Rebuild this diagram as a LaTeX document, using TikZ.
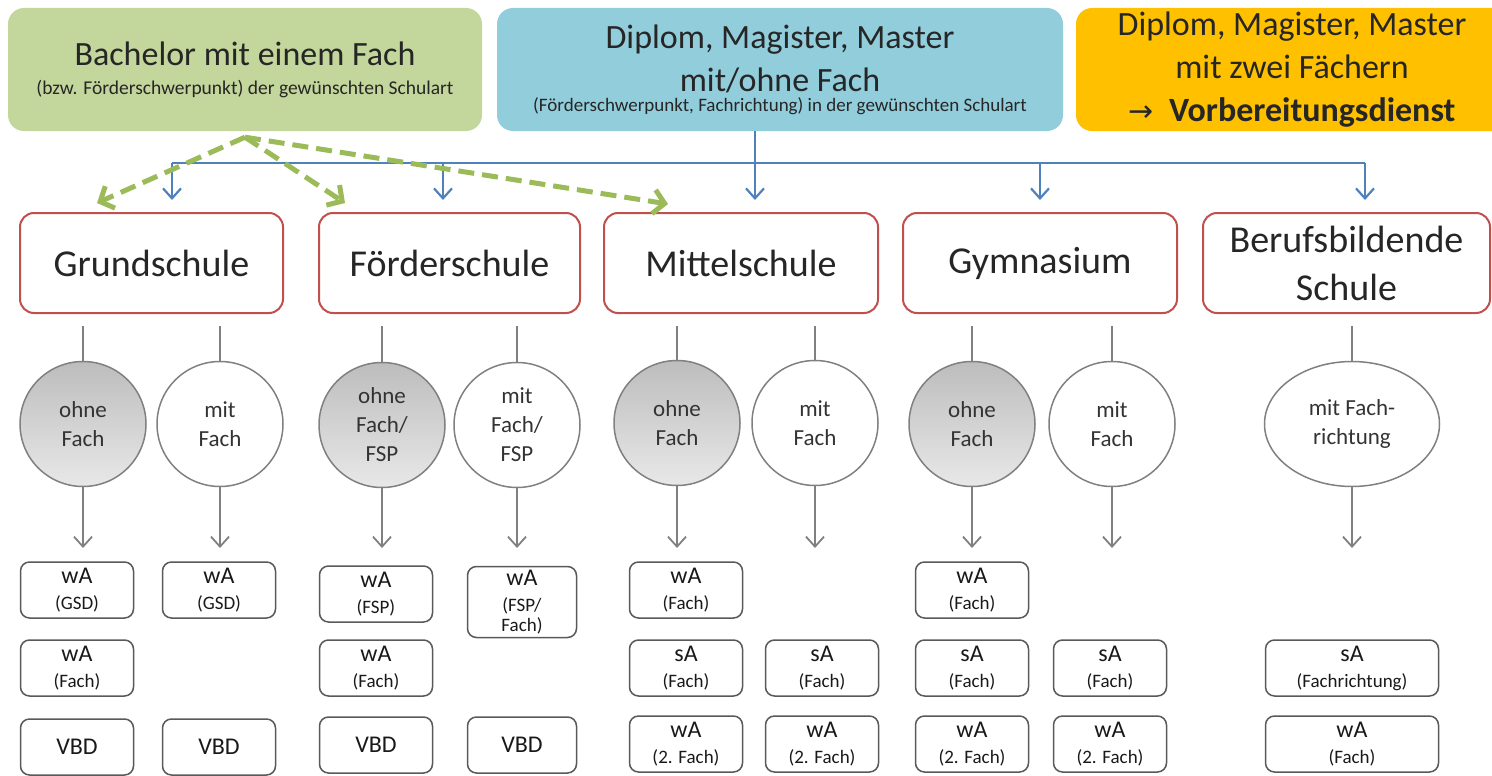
\documentclass[tikz,border=0pt]{standalone}
\usepackage{fontspec}
\setmainfont{Carlito}
\newfontfamily\arrowfont{DejaVu Sans}
\usetikzlibrary{shapes.geometric,arrows.meta}
\definecolor{bachgreen}{HTML}{C3D69B}
\definecolor{dipblue}{HTML}{92CDDC}
\definecolor{vdorange}{HTML}{FFC000}
\definecolor{schoolred}{HTML}{C0504D}
\definecolor{routeblue}{HTML}{4F81BD}
\definecolor{dashgreen}{HTML}{9BBB59}
\tikzset{
  >={Straight Barb[length=10pt,width=18pt]},
}
\tikzstyle{top}=[rounded corners=16pt,minimum height=123pt,align=center,inner sep=0pt,font=\fontsize{34}{43}\selectfont,text=black!85]
\tikzstyle{school}=[draw=schoolred,line width=2pt,rounded corners=14pt,fill=white,minimum height=100pt,align=center,font=\fontsize{38}{48}\selectfont,text=black!85]
\tikzstyle{variant}=[ellipse,draw=black!50,line width=1.5pt,minimum width=126pt,minimum height=125pt,align=center,inner sep=0pt,text=black!80,font=\fontsize{23}{29}\selectfont]
\tikzstyle{ohne}=[variant,top color=black!26,bottom color=black!9]
\tikzstyle{exam}=[draw=black!65,line width=1.5pt,rounded corners=9pt,minimum width=113pt,minimum height=56pt,align=center,inner sep=0pt,text=black!90,font=\fontsize{19}{26}\selectfont]
\tikzstyle{feed}=[draw=black!50,line width=1.8pt]
\tikzstyle{route}=[draw=routeblue,line width=2.2pt]
\tikzstyle{bachelor}=[draw=dashgreen,line width=5pt,dash pattern=on 16pt off 8pt,>={Straight Barb[length=11pt,width=24pt]}]
\newcommand{\exlabel}[2]{{\fontsize{24}{26}\selectfont #1}\\#2}

\begin{document}
\begin{tikzpicture}[x=1pt,y=-1pt]
\useasboundingbox (0,0) rectangle (1492,776);
\node[top,fill=bachgreen,minimum width=474pt] (bach) at (245,69.5) {Bachelor mit einem Fach\\[-14pt]{\fontsize{19.5}{22}\selectfont (bzw. Förderschwerpunkt) der gewünschten Schulart}};
\node[top,fill=dipblue,minimum width=566pt] (dip) at (780,69.5) {Diplom, Magister, Master\\mit/ohne Fach\\[-23pt]{\fontsize{19}{22}\selectfont (Förderschwerpunkt, Fachrichtung) in der gewünschten Schulart}};
\node[top,fill=vdorange,minimum width=432pt] (vd) at (1292,69.5) {Diplom, Magister, Master\\mit zwei Fächern\\{\arrowfont\fontsize{30}{43}\selectfont →}\ \ \textbf{Vorbereitungsdienst}};

\node[school,minimum width=263pt] (grund) at (151.5,263) {Grundschule};
\node[school,minimum width=261pt] (foerder) at (449.5,263) {Förderschule};
\node[school,minimum width=274pt] (mittel) at (741,263) {Mittelschule};
\node[school,minimum width=274pt] (gym) at (1040,263) {Gymnasium};
\node[school,minimum width=287pt] (beruf) at (1346.5,263) {Berufsbildende\\Schule};

\coordinate (bus) at (755,163);
\coordinate (tA) at (172,200);
\coordinate (tB) at (443,200);
\coordinate (tC) at (755,200);
\coordinate (tD) at (1040,200);
\coordinate (tE) at (1365,200);
\draw[route] (tA |- bus) -- (tE |- bus);
\draw[route,->] (dip.south -| bus) -- (tC);
\draw[route,->] (tA |- bus) -- (tA);
\draw[route,->] (tB |- bus) -- (tB);
\draw[route,->] (tD |- bus) -- (tD);
\draw[route,->] (tE |- bus) -- (tE);

\coordinate (gA) at (97,203);
\coordinate (gB) at (345,203);
\coordinate (gC) at (668,204);
\draw[bachelor,->] ([yshift=-6pt]bach.south) -- (gA);
\draw[bachelor,->] ([yshift=-6pt]bach.south) -- (gB);
\draw[bachelor,->] ([yshift=-6pt]bach.south) -- (gC);

\node[ohne] (gO) at (83,424) {ohne\\Fach};
\node[variant] (gM) at (220,424) {mit\\Fach};
\node[ohne] (fO) at (382,425) {ohne\\Fach/\\FSP};
\node[variant] (fM) at (517,425) {mit\\Fach/\\FSP};
\node[ohne] (mO) at (677,423) {ohne\\Fach};
\node[variant] (mM) at (815,423) {mit\\Fach};
\node[ohne] (yO) at (972,424) {ohne\\Fach};
\node[variant] (yM) at (1112,424) {mit\\Fach};
\node[variant,minimum width=175pt] (bM) at (1352,424) {mit Fach-\\richtung};

\coordinate (tips) at (0,548);
\draw[feed,shorten <=12pt] (grund.south -| gO) -- (gO);
\draw[feed,shorten <=12pt] (grund.south -| gM) -- (gM);
\draw[feed,shorten <=12pt] (foerder.south -| fO) -- (fO);
\draw[feed,shorten <=12pt] (foerder.south -| fM) -- (fM);
\draw[feed,shorten <=12pt] (mittel.south -| mO) -- (mO);
\draw[feed,shorten <=12pt] (mittel.south -| mM) -- (mM);
\draw[feed,shorten <=12pt] (gym.south -| yO) -- (yO);
\draw[feed,shorten <=12pt] (gym.south -| yM) -- (yM);
\draw[feed,shorten <=12pt] (beruf.south -| bM) -- (bM);
\draw[feed,->] (gO) -- (gO |- tips);
\draw[feed,->] (gM) -- (gM |- tips);
\draw[feed,->] (fO) -- (fO |- tips);
\draw[feed,->] (fM) -- (fM |- tips);
\draw[feed,->] (mO) -- (mO |- tips);
\draw[feed,->] (mM) -- (mM |- tips);
\draw[feed,->] (yO) -- (yO |- tips);
\draw[feed,->] (yM) -- (yM |- tips);
\draw[feed,->] (bM) -- (bM |- tips);

\node[exam] (gO1) at (77,590) {\exlabel{wA}{(GSD)}};
\node[exam] (gO2) at (77,668) {\exlabel{wA}{(Fach)}};
\node[exam] (gO3) at (77,747) {\fontsize{24}{26}\selectfont VBD};
\node[exam] (gM1) at (219,590) {\exlabel{wA}{(GSD)}};
\node[exam] (gM3) at (219,747) {\fontsize{24}{26}\selectfont VBD};
\node[exam] (fO1) at (376,594) {\exlabel{wA}{(FSP)}};
\node[exam] (fO2) at (376,668) {\exlabel{wA}{(Fach)}};
\node[exam] (fO3) at (376,745) {\fontsize{24}{26}\selectfont VBD};
\node[exam,minimum width=109pt,minimum height=71pt] (fM1) at (522,602) {\exlabel{wA}{(FSP/\\[-6pt]Fach)}};
\node[exam,minimum width=109pt] (fM3) at (522,745) {\fontsize{24}{26}\selectfont VBD};
\node[exam] (mO1) at (686,590) {\exlabel{wA}{(Fach)}};
\node[exam] (mO2) at (686,668) {\exlabel{sA}{(Fach)}};
\node[exam] (mO3) at (686,744) {\exlabel{wA}{(2. Fach)}};
\node[exam] (mM2) at (822,668) {\exlabel{sA}{(Fach)}};
\node[exam] (mM3) at (822,744) {\exlabel{wA}{(2. Fach)}};
\node[exam] (yO1) at (972,590) {\exlabel{wA}{(Fach)}};
\node[exam] (yO2) at (972,668) {\exlabel{sA}{(Fach)}};
\node[exam] (yO3) at (972,744) {\exlabel{wA}{(2. Fach)}};
\node[exam] (yM2) at (1110,668) {\exlabel{sA}{(Fach)}};
\node[exam] (yM3) at (1110,744) {\exlabel{wA}{(2. Fach)}};
\node[exam,minimum width=173pt] (bM2) at (1352,668) {\exlabel{sA}{(Fachrichtung)}};
\node[exam,minimum width=173pt] (bM3) at (1352,744) {\exlabel{wA}{(Fach)}};
\end{tikzpicture}
\end{document}
